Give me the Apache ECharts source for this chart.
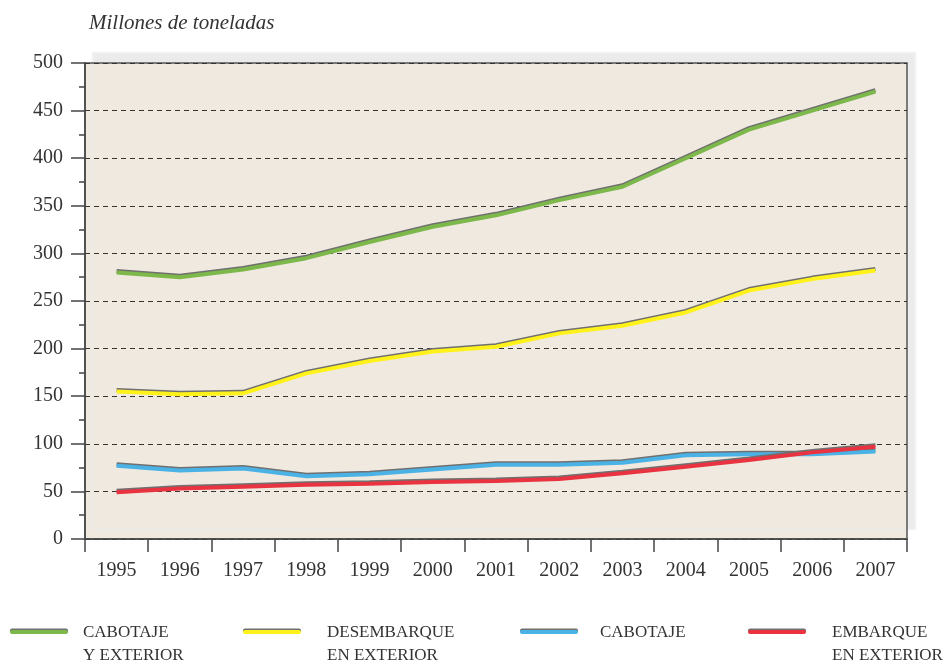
<!DOCTYPE html>
<html>
<head>
<meta charset="utf-8">
<script src="https://cdn.jsdelivr.net/npm/echarts@6/dist/echarts.min.js"></script>
<style>
  html, body { margin: 0; padding: 0; background: #fff; }
  #chart { width: 952px; height: 664px; }
</style>
</head>
<body>
<div id="chart"></div>
<script>
// datos (millones de toneladas)
const years = ['1995', '1996', '1997', '1998', '1999', '2000', '2001', '2002', '2003', '2004', '2005', '2006', '2007'];
const cabotajeExterior = [280, 275, 283, 295, 312, 328, 340, 356, 370, 400, 430, 450, 470];
const desembarqueExterior = [155, 152, 153, 174, 187, 197, 202, 216, 224, 238, 261, 273, 282];
const cabotaje = [77, 72, 74, 66, 68, 73, 78, 78, 80, 88, 89, 89, 92];
const embarqueExterior = [49, 53, 55, 57, 58, 60, 61, 63, 69, 76, 83, 91, 97];

const seriesNames = ['CABOTAJE\nY EXTERIOR', 'DESEMBARQUE\nEN EXTERIOR', 'CABOTAJE', 'EMBARQUE\nEN EXTERIOR'];
const seriesColors = ['#7cb84a', '#fff21a', '#4bb2e6', '#ea3340'];
const seriesData = [cabotajeExterior, desembarqueExterior, cabotaje, embarqueExterior];

const FONT = '"Liberation Serif", "DejaVu Serif", serif';
const EDGE = '#707070';

const chart = echarts.init(document.getElementById('chart'));

// leyenda dibujada a mano (icono alineado con la primera línea del texto)
const legendIconX = [12, 245, 522, 750];
const legendTextX = [83, 327, 600, 832];
const legendGraphics = [];
seriesNames.forEach((name, i) => {
  legendGraphics.push({
    type: 'line',
    shape: { x1: legendIconX[i], y1: 632, x2: legendIconX[i] + 54, y2: 632 },
    style: {
      stroke: seriesColors[i], lineWidth: 4, lineCap: 'round',
      shadowColor: EDGE, shadowOffsetY: -1.5, shadowBlur: 0
    }
  });
  legendGraphics.push({
    type: 'text',
    left: legendTextX[i],
    top: 621,
    style: {
      text: name,
      font: '17px ' + FONT,
      fill: '#333',
      lineHeight: 23
    }
  });
});

const option = {
  backgroundColor: '#fff',
  animation: false,
  title: {
    text: 'Millones de toneladas',
    left: 84,
    top: 8,
    textStyle: { fontFamily: FONT, fontStyle: 'italic', fontWeight: 'normal', fontSize: 21, color: '#333' }
  },
  grid: {
    left: 85, right: 45, top: 63, bottom: 125,
    show: true,
    backgroundColor: '#efe9df',
    borderColor: '#555',
    borderWidth: 1.5,
    shadowColor: '#ebebeb',
    shadowBlur: 2,
    shadowOffsetX: 8,
    shadowOffsetY: -10
  },
  xAxis: {
    type: 'category',
    data: years,
    boundaryGap: true,
    axisLine: { lineStyle: { color: '#444', width: 1.5 } },
    axisTick: { show: true, length: 13, lineStyle: { color: '#444', width: 1.5 } },
    axisLabel: { fontFamily: FONT, fontSize: 20, color: '#333', margin: 22 }
  },
  yAxis: {
    type: 'value',
    min: 0, max: 500, interval: 50,
    axisLine: { show: true, lineStyle: { color: '#444', width: 1.5 } },
    axisTick: { show: true, length: 14, lineStyle: { color: '#444', width: 1.5 } },
    minorTick: { show: true, splitNumber: 2, length: 6, lineStyle: { color: '#444', width: 1.5 } },
    axisLabel: { fontFamily: FONT, fontSize: 20, color: '#333', margin: 22 },
    splitLine: { show: true, lineStyle: { color: '#333', width: 1, type: [5, 4] } }
  },
  series: seriesData.map((d, i) => ({
    name: seriesNames[i],
    type: 'line',
    data: d,
    symbol: 'none',
    lineStyle: {
      color: seriesColors[i], width: 4,
      shadowColor: EDGE, shadowOffsetY: -1.5, shadowBlur: 0
    }
  })),
  graphic: legendGraphics
};

chart.setOption(option);
</script>
</body>
</html>
